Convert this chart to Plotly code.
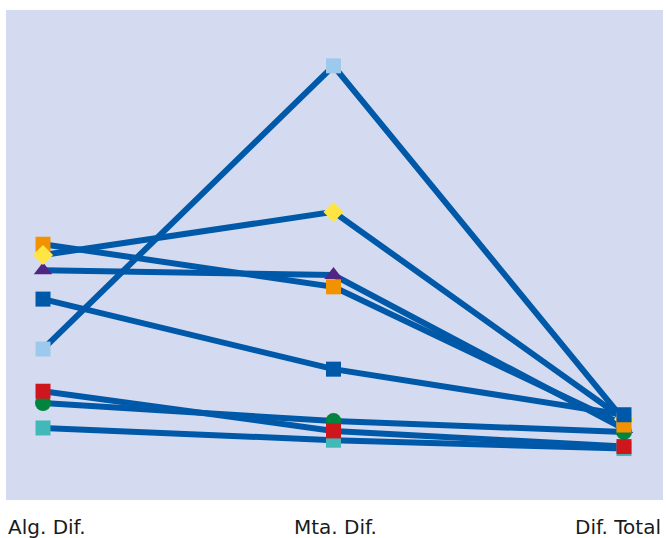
import plotly.graph_objects as go

categories = ["Alg. Dif.", "Mta. Dif.", "Dif. Total"]

# series values (arbitrary 0-100 scale)
teal = [14.7, 12.2, 10.5]
green = [19.8, 16.1, 13.9]
red = [22.2, 14.1, 10.9]
light_blue = [30.8, 88.6, 16.3]
purple = [46.9, 45.9, 14.5]
orange = [52.2, 43.5, 15.3]
yellow = [50.0, 58.8, 16.5]
dark_blue = [41.0, 26.7, 17.4]

styles = {
    "teal": (teal, "#40b9b8", "square", 15),
    "green": (green, "#00843f", "circle", 16),
    "red": (red, "#d0161d", "square", 15),
    "light_blue": (light_blue, "#9dc9ed", "square", 15),
    "purple": (purple, "#4f2683", "triangle-up", 16),
    "orange": (orange, "#f39200", "square", 15),
    "yellow": (yellow, "#ffe544", "diamond", 15.5),
    "dark_blue": (dark_blue, "#0058a8", "square", 15),
}
order_first = ["teal", "green", "red", "light_blue", "purple", "orange", "yellow", "dark_blue"]
order_last = ["teal", "light_blue", "purple", "yellow", "green", "red", "orange", "dark_blue"]

LINE = "#0059a8"
xs = list(range(len(categories)))

fig = go.Figure()
for name in order_first:
    vals = styles[name][0]
    fig.add_trace(go.Scatter(x=xs, y=vals, mode="lines",
                             line=dict(color=LINE, width=6),
                             hoverinfo="skip", showlegend=False))
for name in order_first:
    vals, col, sym, sz = styles[name]
    fig.add_trace(go.Scatter(x=xs[:2], y=vals[:2], mode="markers", name=name,
                             marker=dict(color=col, symbol=sym, size=sz,
                                         line=dict(width=0)),
                             showlegend=False))
for name in order_last:
    vals, col, sym, sz = styles[name]
    fig.add_trace(go.Scatter(x=xs[2:], y=vals[2:], mode="markers", name=name,
                             marker=dict(color=col, symbol=sym, size=sz,
                                         line=dict(width=0)),
                             showlegend=False))

label_shift = [4, 2, -6]
for i, lab in enumerate(categories):
    fig.add_annotation(x=xs[i], y=0, xref="x", yref="paper", text=lab,
                       showarrow=False, xanchor="center", yanchor="middle",
                       xshift=label_shift[i], yshift=-27,
                       font=dict(family="DejaVu Sans", size=20, color="#1a1a1a"))

fig.update_layout(
    width=666, height=538,
    margin=dict(l=6, r=3, t=10, b=38),
    paper_bgcolor="white",
    plot_bgcolor="#d4dbf0",
    xaxis=dict(range=[-0.1274, 2.1343], showticklabels=False,
               showgrid=False, zeroline=False, showline=False),
    yaxis=dict(range=[0, 100], showgrid=False, zeroline=False,
               showline=False, showticklabels=False),
)

fig.write_html("out.html", config={"displayModeBar": False},
               post_script="document.body.style.margin='0';")
